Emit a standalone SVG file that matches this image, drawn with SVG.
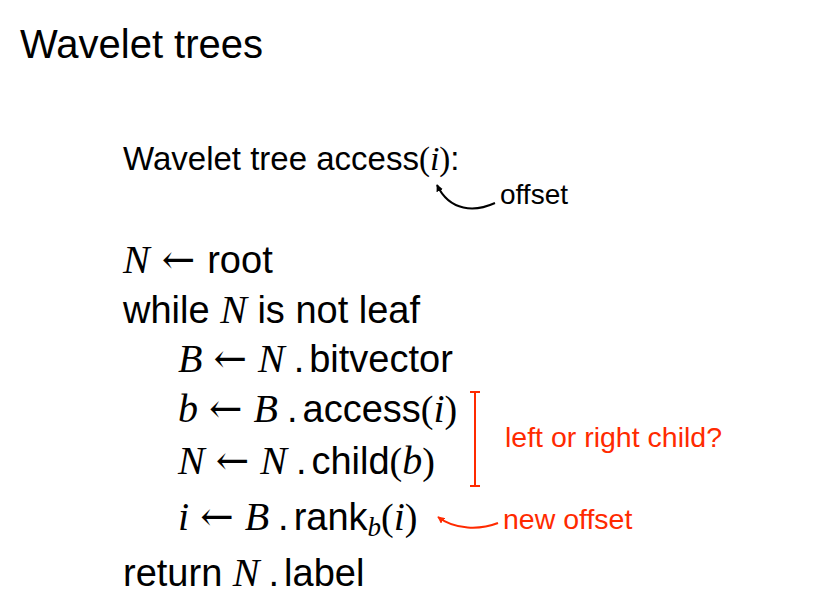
<svg xmlns="http://www.w3.org/2000/svg" width="830" height="614" viewBox="0 0 830 614">
<defs>
<style>
.s{font-family:"Liberation Sans","Arial",sans-serif;fill:#000}
.m{font-family:"Liberation Serif","DejaVu Serif",serif;font-style:italic;font-size:40px}
.sub{font-size:27px}
.r{font-family:"Liberation Serif","DejaVu Serif",serif;font-style:normal}
.ar{font-family:"DejaVu Serif","Liberation Serif",serif;font-style:normal;font-weight:normal;font-size:40px}
.code{font-size:38px}
.red{fill:#ff2a00}
</style>
<marker id="ahB" viewBox="0 0 10 10" refX="9" refY="5" markerWidth="7" markerHeight="7" orient="auto" markerUnits="userSpaceOnUse">
<path d="M0,0 L10,5 L0,10 z" fill="#000"/>
</marker>
<marker id="ahR" viewBox="0 0 10 10" refX="9" refY="5" markerWidth="7" markerHeight="7" orient="auto" markerUnits="userSpaceOnUse">
<path d="M0,0 L10,5 L0,10 z" fill="#ff2a00"/>
</marker>
</defs>
<rect width="830" height="614" fill="#fff"/>
<text class="s" x="20" y="58" font-size="40">Wavelet trees</text>
<text class="s" x="123" y="170" font-size="33">Wavelet tree access<tspan class="r">(</tspan><tspan class="m" style="font-size:34px">i</tspan><tspan class="r">)</tspan>:</text>
<text class="s" x="500" y="204" font-size="28">offset</text>
<g class="code">
<text class="s" x="123" y="273"><tspan class="m">N</tspan><tspan class="ar" dx="12">←</tspan><tspan dx="12">root</tspan></text>
<text class="s" x="123" y="323">while <tspan class="m">N</tspan> is not leaf</text>
<text class="s" x="178" y="372"><tspan class="m">B</tspan><tspan class="ar" dx="11">←</tspan><tspan class="m" dx="11">N</tspan><tspan dx="9">.</tspan><tspan dx="5">bitvector</tspan></text>
<text class="s" x="178" y="422"><tspan class="m">b</tspan><tspan class="ar" dx="11">←</tspan><tspan class="m" dx="11">B</tspan><tspan dx="9">.</tspan><tspan dx="5">access</tspan><tspan class="r">(</tspan><tspan class="m">i</tspan><tspan class="r">)</tspan></text>
<text class="s" x="178" y="474"><tspan class="m">N</tspan><tspan class="ar" dx="11">←</tspan><tspan class="m" dx="11">N</tspan><tspan dx="9">.</tspan><tspan dx="5">child</tspan><tspan class="r">(</tspan><tspan class="m">b</tspan><tspan class="r">)</tspan></text>
<text class="s" x="178" y="530"><tspan class="m">i</tspan><tspan class="ar" dx="11">←</tspan><tspan class="m" dx="11">B</tspan><tspan dx="9">.</tspan><tspan dx="5">rank</tspan><tspan class="m sub" dy="6">b</tspan><tspan class="r" dy="-6">(</tspan><tspan class="m">i</tspan><tspan class="r">)</tspan></text>
<text class="s" x="123" y="586">return <tspan class="m">N</tspan><tspan dx="9">.</tspan><tspan dx="5">label</tspan></text>
</g>
<text class="s red" x="505" y="447" font-size="28.5">left or right child?</text>
<text class="s red" x="503" y="529" font-size="28.5">new offset</text>
<g id="connectors" fill="none" stroke-width="2">
<path d="M495,203 C475,212 450,212 437,185" stroke="#000" marker-end="url(#ahB)"/>
<path d="M498,523 C480,530 455,530 438,517" stroke="#ff2a00" marker-end="url(#ahR)"/>
<path d="M475,392 V486 M470,392 H480 M470,486 H480" stroke="#ff2a00"/>
</g>
</svg>
